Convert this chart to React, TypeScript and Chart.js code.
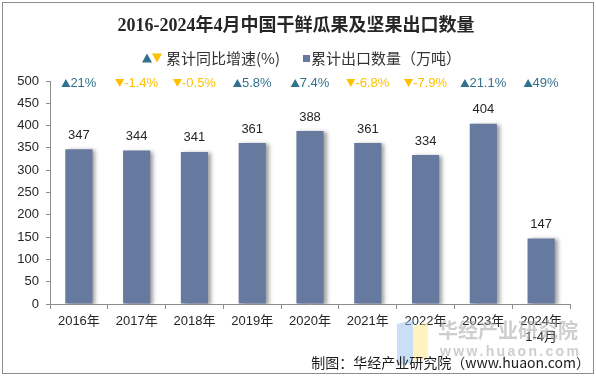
import React, { useEffect, useRef } from "react";
import { Chart, registerables } from "chart.js";

Chart.register(...registerables);

const categories: (string | string[])[] = ["2016年", "2017年", "2018年", "2019年", "2020年", "2021年", "2022年", "2023年", ["2024年", "1-4月"]];
const exportVolume: number[] = [347, 344, 341, 361, 388, 361, 334, 404, 147];
const growthRate: number[] = [21, -1.4, -0.5, 5.8, 7.4, -6.8, -7.9, 21.1, 49];
const growthLabels: string[] = ["21%", "-1.4%", "-0.5%", "5.8%", "7.4%", "-6.8%", "-7.9%", "21.1%", "49%"];

const TITLE = "2016-2024年4月中国干鲜瓜果及坚果出口数量";
const LEGEND_GROWTH = "累计同比增速(%)";
const LEGEND_VOLUME = "累计出口数量（万吨）";
const SOURCE = "制图：华经产业研究院（www.huaon.com）";

const BAR_COLOR = "#66799F";
const UP_COLOR = "#31708F";
const DOWN_COLOR = "#FFC000";
const SANS = "'Liberation Sans', Arial, 'Noto Sans CJK SC', sans-serif";
const CJK = "'Noto Sans CJK SC', 'Liberation Sans', sans-serif";

function tri(ctx: CanvasRenderingContext2D, x: number, cy: number, w: number, h: number, up: boolean, color: string) {
  ctx.fillStyle = color;
  ctx.beginPath();
  if (up) {
    ctx.moveTo(x, cy + h / 2);
    ctx.lineTo(x + w / 2, cy - h / 2);
    ctx.lineTo(x + w, cy + h / 2);
  } else {
    ctx.moveTo(x, cy - h / 2);
    ctx.lineTo(x + w / 2, cy + h / 2);
    ctx.lineTo(x + w, cy - h / 2);
  }
  ctx.closePath();
  ctx.fill();
}

const decorPlugin = {
  id: "decor",
  beforeDraw(chart: any) {
    const ctx: CanvasRenderingContext2D = chart.ctx;
    ctx.save();
    ctx.fillStyle = "#ffffff";
    ctx.fillRect(0, 0, chart.width, chart.height);
    ctx.restore();
  },
  beforeDatasetsDraw(chart: any) {
    const ctx: CanvasRenderingContext2D = chart.ctx;
    ctx.save();
    ctx.shadowColor = "rgba(0,0,0,0.38)";
    ctx.shadowBlur = 4;
    ctx.shadowOffsetX = 3;
    ctx.shadowOffsetY = 1;
  },
  afterDatasetsDraw(chart: any) {
    const ctx: CanvasRenderingContext2D = chart.ctx;
    ctx.restore();
    const meta = chart.getDatasetMeta(0);
    const xs = chart.scales.x;
    const ys = chart.scales.y;
    ctx.save();
    ctx.font = `13px ${SANS}`;
    ctx.fillStyle = "#262626";
    ctx.textAlign = "center";
    ctx.textBaseline = "middle";
    meta.data.forEach((bar: any, i: number) => {
      ctx.fillText(String(exportVolume[i]), bar.x, bar.y - 14);
    });
    const gy = ys.getPixelForValue(500) + 2;
    ctx.textAlign = "left";
    growthRate.forEach((g, i) => {
      const cx = xs.getPixelForValue(i);
      const up = g >= 0;
      const color = up ? UP_COLOR : DOWN_COLOR;
      const tw = ctx.measureText(growthLabels[i]).width;
      const triW = 9;
      const start = cx - (triW + tw) / 2;
      tri(ctx, start, gy, triW, 8, up, color);
      ctx.fillStyle = color;
      ctx.fillText(growthLabels[i], start + triW, gy + 0.5);
    });
    ctx.restore();
  },
  afterDraw(chart: any) {
    const ctx: CanvasRenderingContext2D = chart.ctx;
    ctx.save();
    ctx.font = `bold 18px 'Liberation Serif', 'DejaVu Serif', 'Noto Sans CJK SC', serif`;
    ctx.fillStyle = "#262626";
    ctx.textAlign = "center";
    ctx.textBaseline = "middle";
    ctx.fillText(TITLE, 296, 26);

    ctx.font = `15px ${CJK}`;
    ctx.textAlign = "left";
    tri(ctx, 142, 58, 10, 9, true, UP_COLOR);
    tri(ctx, 152, 58, 10, 9, false, DOWN_COLOR);
    ctx.fillStyle = "#333333";
    ctx.fillText(LEGEND_GROWTH, 166, 58);
    ctx.fillStyle = BAR_COLOR;
    ctx.fillRect(303, 55, 7, 7);
    ctx.fillStyle = "#333333";
    ctx.fillText(LEGEND_VOLUME, 311, 58);

    // watermark
    ctx.globalAlpha = 0.55;
    ctx.fillStyle = "#9DC3F0";
    ctx.beginPath();
    ctx.moveTo(397, 324);
    ctx.lineTo(413, 320);
    ctx.lineTo(413, 362);
    ctx.lineTo(397, 366);
    ctx.closePath();
    ctx.fill();
    ctx.fillStyle = "#FFE98A";
    ctx.beginPath();
    ctx.moveTo(413, 327);
    ctx.lineTo(428, 322);
    ctx.lineTo(428, 358);
    ctx.lineTo(413, 362);
    ctx.closePath();
    ctx.fill();
    ctx.fillStyle = "#A6A6A6";
    ctx.font = `bold 20px ${CJK}`;
    ctx.fillText("华经产业研究院", 438, 330);
    ctx.font = `bold 14px ${SANS}`;
    const www = "www.huaon.com";
    let wx = 440;
    for (const ch of www) {
      ctx.fillText(ch, wx, 352);
      wx += ctx.measureText(ch).width + 2.3;
    }
    ctx.globalAlpha = 1;

    ctx.font = `14px ${CJK}`;
    ctx.fillStyle = "#1a1a1a";
    ctx.textAlign = "right";
    ctx.fillText(SOURCE, 590, 363);

    ctx.strokeStyle = "#8c8c8c";
    ctx.lineWidth = 1;
    ctx.strokeRect(2.5, 2.5, 591, 371);
    ctx.restore();
  },
};

export default function App() {
  const ref = useRef<HTMLCanvasElement | null>(null);
  useEffect(() => {
    document.body.style.margin = "0";
    const canvas = ref.current!;
    const chart = new Chart(canvas, {
      type: "bar",
      data: {
        labels: categories,
        datasets: [
          {
            label: LEGEND_VOLUME,
            data: exportVolume,
            backgroundColor: BAR_COLOR,
            barPercentage: 0.47,
            categoryPercentage: 1,
          },
        ],
      },
      options: {
        responsive: false,
        animation: false,
        devicePixelRatio: 1,
        layout: { padding: { left: 0, top: 81, right: 26, bottom: 0 } },
        plugins: {
          legend: { display: false },
          title: { display: false },
          tooltip: { enabled: false },
        },
        scales: {
          x: {
            grid: { drawOnChartArea: false, drawTicks: true, tickLength: 5, color: "#8c8c8c", offset: true },
            border: { color: "#8c8c8c" },
            ticks: { color: "#262626", font: { size: 13, family: SANS }, padding: 5, maxRotation: 0, autoSkip: false },
            afterFit: (s: any) => { s.height = 72; },
          },
          y: {
            min: 0,
            max: 500,
            grid: { drawOnChartArea: false, drawTicks: true, tickLength: 4, color: "#8c8c8c" },
            border: { color: "#8c8c8c" },
            ticks: { stepSize: 50, color: "#262626", font: { size: 13, family: SANS }, padding: 7 },
            afterFit: (s: any) => { s.width = 50; },
          },
        },
      },
      plugins: [decorPlugin],
    });
    return () => chart.destroy();
  }, []);
  return (
    <div style={{ width: 596, height: 376 }}>
      <canvas ref={ref} width={596} height={376} style={{ display: "block" }} />
    </div>
  );
}
